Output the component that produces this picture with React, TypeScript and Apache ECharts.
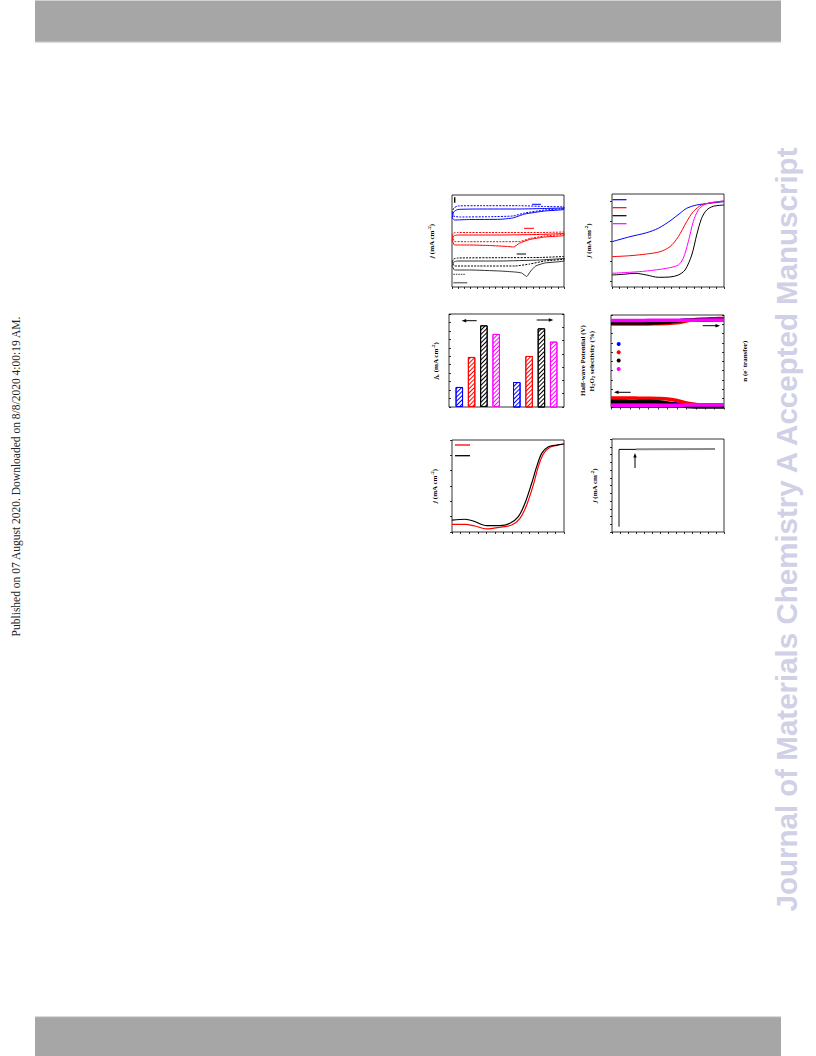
import React, { useEffect, useRef } from "react";
import * as echarts from "echarts";

const FONT = "Liberation Serif";
const BLUE = "#0000ff";
const RED = "#ff0000";
const BLACK = "#000000";
const MAGENTA = "#ff00ff";

// ---------- Panel 1: CV loops (x: potential, y: j) ----------
const cvBlueSolid = [[0.003,-2.3],[0.027,-1.7],[0.09,-1.45],[0.445,-1.4],[1.09,-1.4],[1.49,-1.35],[1.795,-1.3],[1.795,-1.45],[1.49,-1.6],[1.17,-1.9],[0.975,-2.3],[0.77,-2.43],[0.28,-2.45],[0.04,-2.5],[0.003,-2.3]];
const cvBlueDash = [[0.003,-1.8],[0.03,-1.3],[0.09,-1.1],[0.45,-1.07],[1.09,-1.07],[1.49,-1.15],[1.8,-1.2],[1.8,-1.35],[1.49,-1.5],[1.17,-1.8],[0.975,-2.1],[0.6,-2.17],[0.12,-2.2],[0.02,-2.1],[0.003,-1.8]];
const cvRedSolid = [[0.003,-4.5],[0.027,-4.1],[0.09,-4.0],[0.77,-4.0],[1.41,-3.95],[1.8,-3.85],[1.8,-4.05],[1.49,-4.2],[1.25,-4.45],[1.09,-4.8],[0.99,-5.2],[0.895,-5.15],[0.6,-5.05],[0.28,-5.0],[0.04,-5.0],[0.003,-4.5]];
const cvRedDash = [[0.003,-4.1],[0.027,-3.8],[0.09,-3.75],[0.77,-3.75],[1.41,-3.75],[1.8,-3.7],[1.8,-3.9],[1.49,-4.1],[1.25,-4.35],[1.09,-4.65],[0.77,-4.67],[0.28,-4.67],[0.04,-4.65],[0.003,-4.1]];
const cvBlackSolid = [[0.003,-7.1],[0.027,-6.7],[0.09,-6.6],[0.77,-6.6],[1.41,-6.5],[1.8,-6.35],[1.8,-6.6],[1.49,-6.8],[1.345,-7.1],[1.265,-7.6],[1.2,-8.15],[1.12,-7.8],[1.01,-7.7],[0.77,-7.6],[0.28,-7.5],[0.04,-7.5],[0.003,-7.1]];
const cvBlackDash = [[0.003,-6.7],[0.027,-6.4],[0.09,-6.3],[0.77,-6.27],[1.41,-6.25],[1.8,-6.15],[1.8,-6.4],[1.49,-6.6],[1.25,-6.9],[1.01,-7.1],[0.445,-7.1],[0.04,-7.1],[0.003,-6.7]];

// ---------- Panel 2: LSV ----------
const lsvBlue = [[0.25,-2.035],[0.37,-1.785],[0.482,-1.585],[0.56,-1.365],[0.638,-1.0],[0.705,-0.615],[0.75,-0.365],[0.817,-0.2],[0.906,-0.115],[1.0,-0.035]];
const lsvRed = [[0.25,-2.785],[0.37,-2.735],[0.482,-2.65],[0.571,-2.535],[0.638,-2.285],[0.694,-1.785],[0.75,-1.035],[0.794,-0.535],[0.85,-0.2],[0.928,-0.065],[1.0,0]];
const lsvMagenta = [[0.25,-3.615],[0.37,-3.565],[0.482,-3.5],[0.616,-3.365],[0.694,-3.2],[0.727,-2.865],[0.761,-2.035],[0.794,-1.035],[0.828,-0.45],[0.873,-0.165],[0.928,-0.065],[1.0,0]];
const lsvBlack = [[0.25,-3.7],[0.326,-3.665],[0.404,-3.615],[0.482,-3.7],[0.56,-3.815],[0.638,-3.8],[0.694,-3.7],[0.739,-3.45],[0.784,-2.7],[0.817,-1.7],[0.85,-0.865],[0.884,-0.45],[0.928,-0.265],[1.0,-0.2]];
const lsvYTicks = [0, -1, -2, -3, -4];

// ---------- Panel 3: bars ----------
const barGroups = ["jk", "E1/2"];
const barColors = [BLUE, RED, BLACK, MAGENTA];
const jkValues = [2.37, 5.92, 9.66, 8.64];
const halfWaveValues = [0.594, 0.692, 0.796, 0.746];

// ---------- Panel 4: RRDE ----------
const rrdeX = [0.2, 0.25, 0.3, 0.35, 0.4, 0.45, 0.5, 0.55, 0.6, 0.65, 0.7, 0.75, 0.8];
const nBlue = [3.86, 3.86, 3.861, 3.862, 3.863, 3.865, 3.868, 3.875, 3.885, 3.89, 3.893, 3.895, 3.896];
const nRed = [3.805, 3.805, 3.806, 3.807, 3.808, 3.81, 3.815, 3.83, 3.87, 3.905, 3.915, 3.92, 3.924];
const nBlack = [3.827, 3.827, 3.828, 3.828, 3.829, 3.832, 3.845, 3.87, 3.888, 3.895, 3.899, 3.901, 3.903];
const nMagenta = [3.881, 3.881, 3.882, 3.883, 3.884, 3.885, 3.886, 3.887, 3.888, 3.889, 3.89, 3.891, 3.892];
const hBlue = [4.9, 4.9, 4.8, 4.8, 4.7, 4.6, 4.4, 4.0, 3.6, 3.2, 3.0, 2.8, 2.7];
const hRed = [10.3, 10.3, 10.2, 10.1, 10.0, 9.8, 9.3, 7.5, 5.0, 3.2, 2.9, 2.8, 2.7];
const hBlack = [6.7, 6.7, 6.6, 6.6, 6.5, 6.2, 5.0, 3.0, 1.2, 0.6, 0.5, 0.5, 0.5];
const hMagenta = [2.4, 2.4, 2.4, 2.4, 2.4, 2.4, 2.5, 2.5, 2.6, 2.7, 2.8, 2.8, 2.9];

// ---------- Panel 5: LSV comparison ----------
const lsv2Black = [[0,-5.22],[1.51,-5.17],[2.47,-5.28],[4.03,-5.59],[5.57,-5.59],[6.73,-5.43],[7.7,-5.0],[8.47,-4.13],[9.25,-2.82],[9.83,-1.74],[10.41,-0.87],[11.18,-0.44],[12.15,-0.33],[13,-0.26]];
const lsv2Red = [[0,-5.5],[1.51,-5.5],[2.67,-5.61],[4.03,-5.8],[5.57,-5.69],[6.93,-5.54],[7.89,-5.11],[8.67,-4.24],[9.44,-2.93],[10.02,-1.74],[10.6,-0.91],[11.37,-0.48],[12.15,-0.35],[13,-0.26]];

// ---------- Panel 6: chronoamperometry ----------
const caGrayRise = [[0.875,0.68],[0.875,10.66]];
const caBlack = [[0.875,10.66],[3.0,10.66]];
const caGrayHold = [[3.0,10.68],[12.875,10.72]];

const zip = (xs: number[], ys: number[]) => xs.map((x, i) => [x, ys[i]]);

const rich = {
  i: { fontFamily: FONT, fontStyle: "italic", fontWeight: "bold", fontSize: 7, color: "#000" },
  sup: { fontFamily: FONT, fontWeight: "bold", fontSize: 5, verticalAlign: "top", color: "#000" },
  sub: { fontFamily: FONT, fontWeight: "bold", fontSize: 5, verticalAlign: "bottom", color: "#000" },
};
const nameTextStyle = { fontFamily: FONT, fontWeight: "bold", fontSize: 7, color: "#000", lineHeight: 9, rich };

const tick = (inside: boolean, extra: any = {}) => ({
  show: true, inside, length: 2, lineStyle: { color: "#000", width: 0.8 }, ...extra,
});
const noLine = { show: false, onZero: false };
const noLabel = { show: false };
const noSplit = { show: false };

function valueX(gridIndex: number, min: number, max: number, interval: number) {
  return { type: "value", gridIndex, min, max, interval, axisLine: noLine, axisLabel: noLabel, splitLine: noSplit, axisTick: tick(false) };
}

function yName(gridIndex: number, name: string, gap: number, extra: any) {
  return {
    type: "value", gridIndex, name, nameLocation: "middle", nameGap: gap, nameRotate: 90, nameTextStyle,
    axisLine: noLine, axisLabel: noLabel, splitLine: noSplit, ...extra,
  };
}

function hArrow(xFrom: number, xTo: number, y: number) {
  const d = Math.sign(xTo - xFrom);
  return [
    { type: "line", shape: { x1: xFrom, y1: y, x2: xTo - d * 3, y2: y }, style: { stroke: "#000", lineWidth: 1 } },
    { type: "polygon", shape: { points: [[xTo, y], [xTo - d * 4.5, y - 1.7], [xTo - d * 4.5, y + 1.7]] }, style: { fill: "#000" } },
  ];
}
function vArrowUp(x: number, yFrom: number, yTo: number) {
  return [
    { type: "line", shape: { x1: x, y1: yFrom, x2: x, y2: yTo + 3 }, style: { stroke: "#000", lineWidth: 1 } },
    { type: "polygon", shape: { points: [[x, yTo], [x - 1.7, yTo + 4.5], [x + 1.7, yTo + 4.5]] }, style: { fill: "#000" } },
  ];
}
function seg(x1: number, x2: number, y: number, stroke: string, lineWidth = 1, lineDash?: number[]) {
  return { type: "line", shape: { x1, y1: y, x2, y2: y }, style: { stroke, lineWidth, lineDash } };
}

const lineS = (name: string, data: any[], color: string, xi: number, yi: number, extra: any = {}) => ({
  type: "line", name, data, xAxisIndex: xi, yAxisIndex: yi, symbol: "none", smooth: 0.3,
  lineStyle: { color, width: 1, ...(extra.lineStyle || {}) }, itemStyle: { color },
  ...Object.fromEntries(Object.entries(extra).filter(([k]) => k !== "lineStyle")),
});

const gridBase = { show: true, borderColor: "#000", borderWidth: 0.8, backgroundColor: "transparent" };

const rrdeNames = ["RRDE blue", "RRDE red", "RRDE black", "RRDE magenta"];

const option: any = {
  animation: false,
  textStyle: { fontFamily: FONT },
  grid: [
    { ...gridBase, left: 452, top: 195, width: 112, height: 92 },
    { ...gridBase, left: 612, top: 194, width: 112, height: 93 },
    { ...gridBase, left: 449, top: 314, width: 115, height: 93 },
    { ...gridBase, left: 611, top: 315, width: 113, height: 92.5 },
    { ...gridBase, left: 452, top: 440, width: 112, height: 92 },
    { ...gridBase, left: 612, top: 439, width: 112, height: 93 },
  ],
  xAxis: [
    valueX(0, 0, 1.8, 0.1),
    valueX(1, 0.25, 1.0, 0.05),
    { type: "category", gridIndex: 2, data: barGroups, axisLine: noLine, axisLabel: noLabel, axisTick: { show: false } },
    { type: "category", gridIndex: 2, data: barGroups, show: false },
    valueX(3, 0.2, 0.8, 0.05),
    valueX(4, 0, 13, 1),
    valueX(5, 0, 14, 1),
  ],
  yAxis: [
    yName(0, "{i|j} (mA cm{sup|-2})", 16, { min: -9.2, max: 0, axisTick: { show: false } }),
    yName(1, "{i|j} (mA cm{sup|-2})", 19, { min: -4.3, max: 0.35, axisTick: tick(false, { customValues: lsvYTicks }) }),
    yName(2, "{i|j}{sub|k} (mA cm{sup|-2})", 9, { min: 0, max: 11, interval: 1, axisTick: tick(true) }),
    yName(2, "Half-wave Potential (V)", 14, { position: "right", min: 0.5, max: 0.85, interval: 0.05, axisTick: tick(true) }),
    yName(3, "H{sub|2}O{sub|2} selectivity (%)", 15, { min: 0, max: 100, interval: 10, axisTick: tick(true) }),
    yName(3, "n (e{sup|-} transfer)", 16, { position: "right", min: 2, max: 4, interval: 0.2, axisTick: tick(true) }),
    yName(4, "{i|j} (mA cm{sup|-2})", 13, { min: -6, max: 0, interval: 1, axisTick: tick(false) }),
    yName(5, "{i|j} (mA cm{sup|-2})", 13, { min: 0, max: 12, interval: 1, axisTick: tick(false) }),
  ],
  legend: [
    {
      data: ["LSV blue", "LSV red", "LSV black", "LSV magenta"], orient: "vertical", left: 612.5, top: 199.1, icon: "rect",
      itemWidth: 14, itemHeight: 1.2, itemGap: 6.8, padding: 0, formatter: () => "", selectedMode: false,
    },
    {
      data: rrdeNames, orient: "vertical", left: 616.7, top: 342, icon: "circle",
      itemWidth: 4, itemHeight: 4, itemGap: 4.3, padding: 0, formatter: () => "", selectedMode: false,
    },
    {
      data: ["Cmp red", "Cmp black"], orient: "vertical", left: 455, top: 444.35, icon: "rect",
      itemWidth: 15, itemHeight: 1.3, itemGap: 9.4, padding: 0, formatter: () => "", selectedMode: false,
    },
  ],
  series: [
    // panel 1
    lineS("CV blue N2", cvBlueSolid, BLUE, 0, 0, { smooth: 0.15 }),
    lineS("CV blue O2", cvBlueDash, BLUE, 0, 0, { smooth: 0.15, lineStyle: { type: [2, 1.2] } }),
    lineS("CV red N2", cvRedSolid, RED, 0, 0, { smooth: 0.15 }),
    lineS("CV red O2", cvRedDash, RED, 0, 0, { smooth: 0.15, lineStyle: { type: [2, 1.2] } }),
    lineS("CV black N2", cvBlackSolid, "#333333", 0, 0, { smooth: 0.15 }),
    lineS("CV black O2", cvBlackDash, BLACK, 0, 0, { smooth: 0.15, lineStyle: { type: [2, 1.2] } }),
    // panel 2
    lineS("LSV blue", lsvBlue, BLUE, 1, 1),
    lineS("LSV red", lsvRed, RED, 1, 1),
    lineS("LSV black", lsvBlack, BLACK, 1, 1),
    lineS("LSV magenta", lsvMagenta, MAGENTA, 1, 1),
    // panel 3 bars
    ...barColors.map((c, i) => ({
      type: "bar", name: "jk " + i, xAxisIndex: 2, yAxisIndex: 2, data: [jkValues[i], "-"],
      barWidth: 7.5, barGap: "64%",
      itemStyle: { color: "#ffffff", borderColor: c, borderWidth: 1,
        decal: { symbol: "rect", symbolSize: 1, dashArrayX: [1, 0], dashArrayY: [1, 1.6], rotation: -Math.PI / 4, color: c } },
    })),
    ...barColors.map((c, i) => ({
      type: "bar", name: "E " + i, xAxisIndex: 3, yAxisIndex: 3, data: ["-", halfWaveValues[i]],
      barWidth: 7.5, barGap: "64%",
      itemStyle: { color: "#ffffff", borderColor: c, borderWidth: 1,
        decal: { symbol: "rect", symbolSize: 1, dashArrayX: [1, 0], dashArrayY: [1, 1.6], rotation: -Math.PI / 4, color: c } },
    })),
    // panel 4
    lineS("H2O2 blue", zip(rrdeX, hBlue), BLUE, 4, 4, { lineStyle: { width: 3.5 } }),
    lineS("H2O2 red", zip(rrdeX, hRed), RED, 4, 4, { lineStyle: { width: 3.5 } }),
    lineS("H2O2 black", zip(rrdeX, hBlack), BLACK, 4, 4, { lineStyle: { width: 3.5 } }),
    lineS("H2O2 magenta", zip(rrdeX, hMagenta), MAGENTA, 4, 4, { lineStyle: { width: 3.5 } }),
    lineS(rrdeNames[0], zip(rrdeX, nBlue), BLUE, 4, 5, { lineStyle: { width: 3.5 } }),
    lineS(rrdeNames[1], zip(rrdeX, nRed), RED, 4, 5, { lineStyle: { width: 3.5 } }),
    lineS(rrdeNames[2], zip(rrdeX, nBlack), BLACK, 4, 5, { lineStyle: { width: 3.5 } }),
    lineS(rrdeNames[3], zip(rrdeX, nMagenta), MAGENTA, 4, 5, { lineStyle: { width: 3.5 } }),
    // panel 5
    lineS("Cmp red", lsv2Red, RED, 5, 6, { lineStyle: { width: 1.2 } }),
    lineS("Cmp black", lsv2Black, BLACK, 5, 6, { lineStyle: { width: 1.2 } }),
    // panel 6
    lineS("CA rise", caGrayRise, "#8a8a8a", 6, 7, { smooth: false, lineStyle: { width: 2 } }),
    lineS("CA hold", caGrayHold, "#8a8a8a", 6, 7, { smooth: false, lineStyle: { width: 2 } }),
    lineS("CA start", caBlack, BLACK, 6, 7, { smooth: false, lineStyle: { width: 1 } }),
  ],
  graphic: [
    { type: "rect", shape: { x: 35, y: 0.5, width: 746, height: 41.5 }, style: { fill: "#a6a6a6" } },
    { type: "rect", shape: { x: 35, y: 41.5, width: 746, height: 1.3 }, style: { fill: "#cfcfcf" } },
    { type: "rect", shape: { x: 35, y: 1017, width: 746, height: 39 }, style: { fill: "#a6a6a6" } },
    { type: "rect", shape: { x: 35, y: 1016.3, width: 746, height: 1 }, style: { fill: "#cfcfcf" } },
    {
      type: "text", x: 16, y: 476.5, rotation: Math.PI / 2,
      style: { text: "Published on 07 August 2020. Downloaded on 8/8/2020 4:00:19 AM.", font: '11.5px "Liberation Serif"', fill: "#222",
        align: "center", verticalAlign: "middle", textAlign: "center", textVerticalAlign: "middle" },
    },
    {
      type: "text", x: 786, y: 529.5, rotation: Math.PI / 2,
      style: { text: "Journal of Materials Chemistry A Accepted Manuscript", font: 'bold 29.5px "Liberation Sans"', fill: "#d0d0e6",
        align: "center", verticalAlign: "middle", textAlign: "center", textVerticalAlign: "middle" },
    },
    // panel 1 decorations
    { type: "rect", shape: { x: 454, y: 197.3, width: 1.4, height: 5.4 }, style: { fill: "#000" } },
    seg(532, 541, 204.3, BLUE),
    seg(524, 534, 228.3, RED),
    seg(516.7, 526, 254, BLACK),
    seg(453.3, 465, 274.3, "#333", 1, [1.5, 1]),
    seg(453.3, 467.3, 282.7, "#777", 1.5),
    // panel 3 arrows
    ...hArrow(476.7, 461.7, 320.7),
    ...hArrow(536.7, 553.3, 320),
    // panel 4 arrows
    ...hArrow(702.7, 720, 325.7),
    ...hArrow(630.7, 614, 392.3),
    // panel 6 arrow
    ...vArrowUp(635, 468, 453),
  ],
};

export default function App() {
  const ref = useRef<HTMLDivElement>(null);
  useEffect(() => {
    const chart = echarts.init(ref.current!, null, { renderer: "svg", width: 816, height: 1056 });
    chart.setOption(option);
    return () => chart.dispose();
  }, []);
  return <div ref={ref} style={{ position: "absolute", left: 0, top: 0, width: 816, height: 1056 }} />;
}
